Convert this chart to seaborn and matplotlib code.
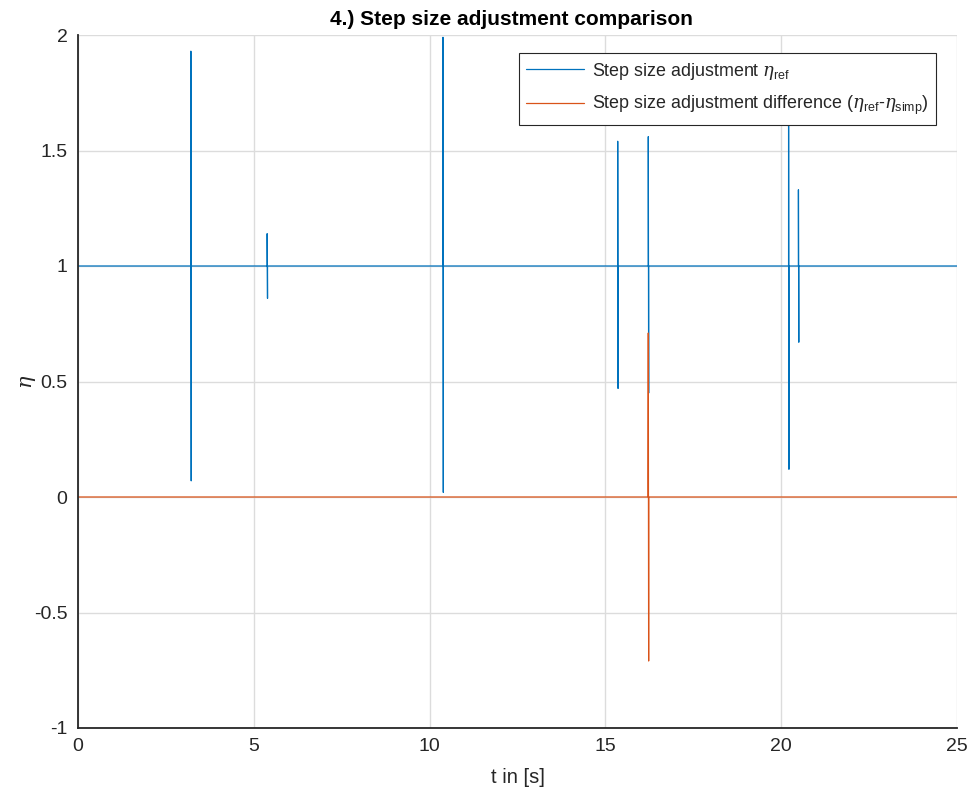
import matplotlib
matplotlib.use("Agg")
import matplotlib.pyplot as plt
import seaborn as sns
import pandas as pd

# ---- data ----
# reference step size adjustment eta_ref: baseline 1 with short spikes
t_ref = [0.0,
         3.21, 3.21, 3.22, 3.22,
         5.38, 5.38, 5.39, 5.39,
         10.38, 10.38, 10.39, 10.39,
         15.35, 15.35, 15.36, 15.36,
         16.22, 16.22, 16.23, 16.23,
         20.21, 20.21, 20.22, 20.22,
         20.49, 20.49, 20.50, 20.50,
         25.0]
eta_ref = [1.0,
           1.0, 1.93, 0.07, 1.0,
           1.0, 1.14, 0.86, 1.0,
           1.0, 1.99, 0.02, 1.0,
           1.0, 1.54, 0.47, 1.0,
           1.0, 1.56, 0.45, 1.0,
           1.0, 1.75, 0.12, 1.0,
           1.0, 1.33, 0.67, 1.0,
           1.0]

# difference eta_ref - eta_simp
t_diff = [0.0, 16.21, 16.21, 16.22, 16.225, 16.23, 16.235, 25.0]
eta_diff = [0.0, 0.0, 0.08, 0.71, -0.08, -0.71, 0.0, 0.0]

title = "4.) Step size adjustment comparison"
xlabel = "t in [s]"
ylabel = r"$\eta$"
label_ref = r"Step size adjustment $\eta_{\mathrm{ref}}$"
label_diff = r"Step size adjustment difference ($\eta_{\mathrm{ref}}$-$\eta_{\mathrm{simp}}$)"
xticks = [0, 5, 10, 15, 20, 25]
yticks = [-1, -0.5, 0, 0.5, 1, 1.5, 2]
ytick_labels = ["-1", "-0.5", "0", "0.5", "1", "1.5", "2"]

# ---- style ----
sns.set_style("white")
plt.rcParams["font.family"] = ["Liberation Sans", "DejaVu Sans"]
plt.rcParams["mathtext.fontset"] = "custom"
plt.rcParams["mathtext.rm"] = "Liberation Sans"
plt.rcParams["mathtext.it"] = "DejaVu Serif:italic"
plt.rcParams["axes.unicode_minus"] = False

df_ref = pd.DataFrame({"t": t_ref, "eta": eta_ref})
df_diff = pd.DataFrame({"t": t_diff, "eta": eta_diff})

fig = plt.figure(figsize=(9.72, 7.94), dpi=100)
ax = fig.add_axes([78 / 972, 66 / 794, 879 / 972, 693 / 794])

blue = "#0072BD"
orange = "#D95319"
sns.lineplot(data=df_ref, x="t", y="eta", sort=False, estimator=None,
             color=blue, linewidth=0.9, ax=ax, label=label_ref)
sns.lineplot(data=df_diff, x="t", y="eta", sort=False, estimator=None,
             color=orange, linewidth=0.9, ax=ax, label=label_diff)

ax.set_xlim(0, 25)
ax.set_ylim(-1, 2)
ax.set_xticks(xticks)
ax.set_xticklabels([str(v) for v in xticks])
ax.set_yticks(yticks)
ax.set_yticklabels(ytick_labels)
ax.grid(True, color="#dcdcdc", linewidth=1.0)
ax.set_axisbelow(True)

for side in ["top", "right"]:
    ax.spines[side].set_visible(False)
for side in ["left", "bottom"]:
    ax.spines[side].set_color("#262626")
    ax.spines[side].set_linewidth(1.3)
ax.tick_params(direction="in", length=7, width=1.0, color="#262626",
               labelsize=14, labelcolor="#262626", pad=7.5)

ax.set_title(title, fontsize=15, fontweight="bold", color="black", pad=7, x=0.4926)
ax.set_xlabel(xlabel, fontsize=14.5, color="#262626", va="top")
ax.xaxis.set_label_coords(0.5, -0.058)
ax.set_ylabel(ylabel, fontsize=15, color="#262626")
ax.yaxis.set_label_coords(-0.045, 0.5)

leg = ax.legend(loc="upper right", bbox_to_anchor=(0.976, 0.974),
                fontsize=12.9, frameon=True, fancybox=False,
                edgecolor="#262626", framealpha=1.0, handlelength=3.2,
                borderpad=0.42, labelspacing=0.7, handletextpad=0.46,
                borderaxespad=0.0)
leg.get_frame().set_linewidth(0.8)

fig.savefig("out.png", dpi=100)
